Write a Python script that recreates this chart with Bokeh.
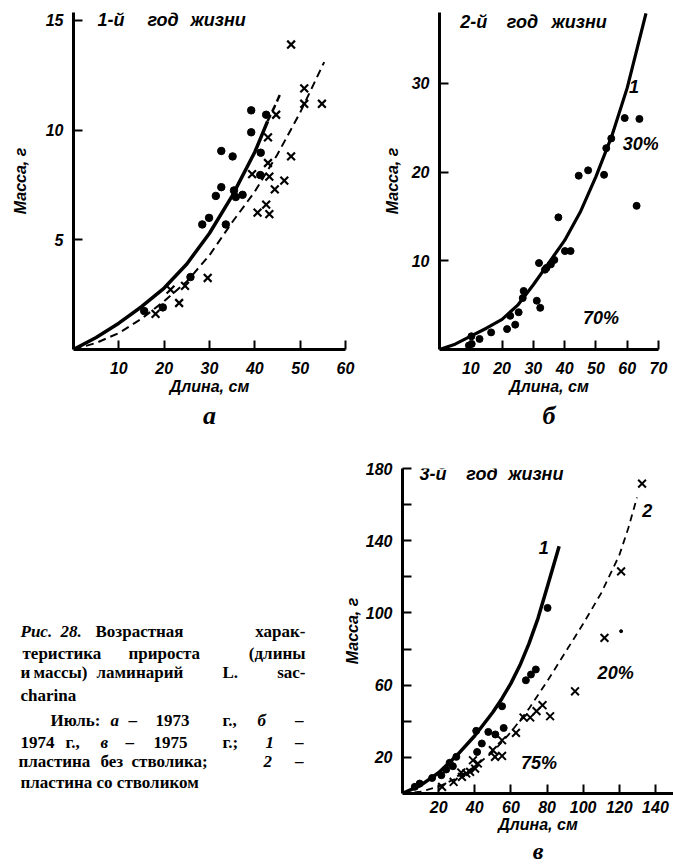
from bokeh.plotting import figure
from bokeh.models import Range1d, FixedTicker, Label, Title
from bokeh.layouts import row, column
from bokeh.embed import file_html
from bokeh.resources import INLINE
from bokeh.core.properties import value

# ---------------- data: panel a (1st year) ----------------
a_dot_len = [15.6, 19.7, 25.8, 28.4, 29.9, 31.4, 32.6, 33.6, 35.4, 35.8, 37.3,
             32.6, 35.1, 41.3, 41.2, 39.2, 39.2, 42.5]
a_dot_mass = [1.75, 1.92, 3.3, 5.7, 6.0, 7.0, 7.4, 5.7, 7.25, 6.95, 7.05,
              9.05, 8.8, 8.97, 7.95, 9.9, 10.9, 10.7]
a_cross_len = [18.1, 21.4, 23.3, 24.6, 29.6, 40.6, 42.5, 43.2, 44.4, 39.4, 43.2,
               46.5, 42.9, 48.0, 42.9, 44.7, 50.9, 50.9, 54.8, 48.0]
a_cross_mass = [1.62, 2.73, 2.12, 2.9, 3.26, 6.24, 6.6, 6.17, 7.3, 7.99, 7.88,
                7.7, 8.5, 8.8, 9.67, 10.7, 11.2, 11.9, 11.2, 13.9]
a_c1_len = [0, 5, 10, 15, 20, 25, 30, 35, 40, 42.8]
a_c1_mass = [0, 0.55, 1.2, 1.95, 2.8, 3.9, 5.3, 7.0, 9.0, 10.4]
a_c1x_len = [42.8, 44.2, 45.5]
a_c1x_mass = [10.4, 11.0, 11.6]
a_c2_len = [0, 5, 10, 15, 20, 25, 30, 35, 40, 45, 50, 55.3]
a_c2_mass = [0, 0.3, 0.75, 1.4, 2.2, 3.1, 4.3, 5.8, 7.2, 8.9, 10.8, 13.1]
a_xticks = [10, 20, 30, 40, 50, 60]
a_yticks = [5, 10, 15]

# ---------------- data: panel b (2nd year) ----------------
b_dot_len = [9.4, 10.3, 10.2, 12.8, 16.5, 21.6, 22.6, 24.2, 25.3, 26.6, 26.9,
             31.1, 32.2, 31.8, 33.7, 34.2, 35.6, 36.7, 38.0, 40.1, 41.9, 44.5,
             47.5, 52.6, 53.3, 54.9, 59.2, 63.9, 63.0]
b_dot_mass = [0.45, 0.63, 1.49, 1.19, 1.93, 2.3, 3.8, 2.8, 4.2, 5.8, 6.6,
              5.5, 4.7, 9.75, 9.0, 9.2, 9.6, 10.1, 14.9, 11.1, 11.1, 19.6,
              20.2, 19.7, 22.7, 23.8, 26.1, 26.0, 16.2]
b_c1_len = [0, 5, 10, 15, 20, 25, 30, 35, 40, 45, 50, 55, 60, 66]
b_c1_mass = [0, 0.6, 1.5, 2.4, 3.4, 5.0, 7.3, 9.8, 12.3, 15.5, 19.5, 24.0, 29.5, 37.9]
b_xticks = [10, 20, 30, 40, 50, 60, 70]
b_yticks = [10, 20, 30]

# ---------------- data: panel c (3rd year) ----------------
c_dot_len = [6.8, 9.5, 16.4, 21.5, 24.2, 27.9, 26.1, 29.8, 41.3, 43.9, 40.8,
             47.5, 51.4, 56.0, 55.1, 68.3, 71.1, 73.8, 80.3]
c_dot_mass = [3.7, 5.5, 8.6, 10.1, 13.3, 15.1, 17.0, 20.3, 23.0, 27.7, 34.7,
              34.1, 32.7, 36.3, 48.3, 62.7, 65.9, 68.7, 102.8]
c_small_len = [121.0]
c_small_mass = [89.9]
c_cross_len = [21.9, 28.3, 32.5, 32.9, 35.3, 37.4, 39.0, 40.2, 41.7, 50.0, 51.2,
               55.1, 55.1, 62.8, 67.0, 70.7, 74.2, 77.5, 81.7, 95.5, 111.8, 121.0, 132.6]
c_cross_mass = [3.7, 6.4, 11.6, 9.2, 11.1, 12.0, 18.4, 13.8, 16.6, 24.0, 20.3,
                20.8, 29.5, 33.6, 42.1, 42.1, 45.6, 48.9, 42.8, 56.6, 86.2, 123.0, 171.6]
c_c1_len = [0, 10, 20, 30, 40, 50, 55, 60, 65, 70, 75, 80, 86.7]
c_c1_mass = [0, 4.5, 11.5, 21, 32, 45, 52.5, 61, 71, 83, 97, 114, 137]
c_c2_len = [0, 10, 20, 30, 40, 50, 60, 70, 80, 90, 100, 110, 120, 125, 129.8]
c_c2_mass = [0, 1, 3.8, 8.5, 15, 23, 34, 47, 62, 78, 94, 111, 132, 147, 164]
c_xticks = [20, 40, 60, 80, 100, 120, 140]
c_yticks = [20, 40, 60, 80, 100, 120, 140, 160, 180]

SANS = "Liberation Sans"
SERIF = "Liberation Serif"


def panel(width, height, x_end, y_end, left, right, top, bottom, xticks, yticks):
    p = figure(width=width, height=height,
               x_range=Range1d(0, x_end), y_range=Range1d(0, y_end),
               output_backend="svg", toolbar_location=None,
               min_border_left=left, min_border_right=right,
               min_border_top=top, min_border_bottom=bottom)
    p.grid.visible = False
    p.outline_line_color = None
    p.xaxis.ticker = FixedTicker(ticks=xticks)
    p.yaxis.ticker = FixedTicker(ticks=yticks)
    for ax in (p.xaxis[0], p.yaxis[0]):
        ax.axis_line_width = 3
        ax.axis_line_color = "black"
        ax.major_tick_line_width = 2
        ax.major_tick_line_color = "black"
        ax.major_tick_in = 9
        ax.major_tick_out = 0
        ax.minor_tick_line_color = None
        ax.major_label_text_font = SANS
        ax.major_label_text_font_size = "16px"
        ax.major_label_text_font_style = "bold italic"
        ax.major_label_text_color = "black"
        ax.axis_label_text_font = SANS
        ax.axis_label_text_font_size = "16px"
        ax.axis_label_text_font_style = "bold italic"
        ax.axis_label_text_color = "black"
    p.xaxis.axis_label = "Длина, см"
    p.yaxis.axis_label = "Масса, г"
    p.xaxis.major_label_standoff = 12
    p.xaxis.axis_label_standoff = 1
    p.yaxis.major_label_standoff = 10
    return p


def add_text(p, x, y, text, size="18px", align="left"):
    p.add_layout(Label(x=x, y=y, text=text, text_font=SANS, text_font_style="bold italic",
                       text_font_size=size, text_color="black",
                       text_baseline="middle", text_align=align))


def add_title_words(p, xs, y, words):
    for x, w in zip(xs, words):
        add_text(p, x, y, w, size="18px")


def add_letter(p, letter, offset, size, standoff):
    p.add_layout(Title(text=letter, align="center", offset=offset, text_font=SERIF,
                       text_font_style="bold italic", text_font_size=size,
                       text_color="black", standoff=standoff), "below")


# ---------- panel a ----------
pa = panel(380, 430, 60, 15.36, 73, 35, 12, 80, a_xticks, a_yticks)
pa.yaxis.axis_label_standoff = 14
pa.line(a_c1_len, a_c1_mass, line_width=3.5, line_color="black")
pa.line(a_c1x_len, a_c1x_mass, line_width=2.5, line_color="black", line_dash="7 4")
pa.line(a_c2_len, a_c2_mass, line_width=2, line_color="black", line_dash="8 5")
pa.scatter(a_dot_len, a_dot_mass, marker="circle", size=7.5, color="black")
pa.scatter(a_cross_len, a_cross_mass, marker="x", size=11, line_width=2.2, line_color="black")
add_title_words(pa, [5.3, 16.3, 25.8], 15.0, ["1-й", "год", "жизни"])
add_letter(pa, "а", 8, "26px", 2)

# ---------- panel b ----------
pb = panel(293, 430, 70, 38.0, 57, 15, 12, 80, b_xticks, b_yticks)
pb.yaxis.axis_label_standoff = 8
pb.line(b_c1_len, b_c1_mass, line_width=3.2, line_color="black")
pb.scatter(b_dot_len, b_dot_mass, marker="circle", size=7, color="black")
add_title_words(pb, [6.65, 21.5, 35.8], 36.9, ["2-й", "год", "жизни"])
add_text(pb, 62.2, 29.7, "1", align="center")
add_text(pb, 58.6, 23.2, "30%")
add_text(pb, 45.9, 3.5, "70%")
add_letter(pb, "б", 10, "26px", 2)

# ---------- caption (y range in page pixels, aligned with panel c frame) ----------
pcap = figure(width=340, height=434, x_range=Range1d(0, 340), y_range=Range1d(793, 468),
              output_backend="svg", toolbar_location=None,
              min_border_left=0, min_border_right=0, min_border_top=38, min_border_bottom=71,
              x_axis_type=None, y_axis_type=None)
pcap.outline_line_color = None
pcap.grid.visible = False

cap_pieces = [
    ("Рис.", 20, 631, "left", "bold italic"),
    ("28.", 60, 631, "left", "bold italic"),
    ("Возрастная", 95, 631, "left", "bold"),
    ("харак-", 305, 631, "right", "bold"),
    ("теристика", 22, 653, "left", "bold"),
    ("прироста", 128, 653, "left", "bold"),
    ("(длины", 305, 653, "right", "bold"),
    ("и", 20, 672, "left", "bold"),
    ("массы)", 33, 672, "left", "bold"),
    ("ламинарий", 96, 672, "left", "bold"),
    ("L.", 222, 672, "left", "bold"),
    ("sac-", 305, 672, "right", "bold"),
    ("charina", 20, 695, "left", "bold"),
    ("Июль:", 50, 720, "left", "bold"),
    ("а", 110, 720, "left", "bold italic"),
    ("–", 128, 720, "left", "bold"),
    ("1973", 155, 720, "left", "bold"),
    ("г.,", 222, 720, "left", "bold"),
    ("б", 257, 720, "left", "bold italic"),
    ("–", 303, 720, "right", "bold"),
    ("1974", 20, 742, "left", "bold"),
    ("г.,", 65, 742, "left", "bold"),
    ("в", 100, 742, "left", "bold italic"),
    ("–", 125, 742, "left", "bold"),
    ("1975", 153, 742, "left", "bold"),
    ("г.;", 222, 742, "left", "bold"),
    ("1", 265, 742, "left", "bold italic"),
    ("–", 303, 742, "right", "bold"),
    ("пластина", 18, 761, "left", "bold"),
    ("без", 100, 761, "left", "bold"),
    ("стволика;", 131, 761, "left", "bold"),
    ("2", 263, 761, "left", "bold italic"),
    ("–", 303, 761, "right", "bold"),
    ("пластина со стволиком", 20, 782, "left", "bold"),
]
for txt, x, y, al, st in cap_pieces:
    pcap.text(x=[x], y=[y], text=[txt], text_font=value(SERIF), text_font_size="17px",
              text_font_style=st, text_align=al, text_baseline="middle", text_color="black")

# ---------- panel c ----------
pc = panel(333, 434, 150, 180, 61, 0, 38, 71, c_xticks, c_yticks)
pc.yaxis.major_label_overrides = {40: "", 80: "", 120: "", 160: ""}
pc.yaxis.axis_label_standoff = 2
pc.xaxis.major_label_standoff = 7
pc.xaxis.axis_label_standoff = 0
pc.line(c_c1_len, c_c1_mass, line_width=3.5, line_color="black")
pc.line(c_c2_len, c_c2_mass, line_width=1.8, line_color="black", line_dash="7 5")
pc.scatter(c_dot_len, c_dot_mass, marker="circle", size=7, color="black")
pc.scatter(c_small_len, c_small_mass, marker="circle", size=3, color="black")
pc.scatter(c_cross_len, c_cross_mass, marker="x", size=11, line_width=2, line_color="black")
add_title_words(pc, [9.4, 35.3, 58.5], 177.2, ["3-й", "год", "жизни"])
add_text(pc, 78.2, 136.5, "1", align="center")
add_text(pc, 135.5, 157, "2", align="center")
add_text(pc, 108, 66.6, "20%")
add_text(pc, 65.6, 16.9, "75%")
add_letter(pc, "в", -4, "24px", 0)

layout = column(row(pa, pb), row(pcap, pc))
open("out.html", "w").write(file_html(layout, INLINE))
